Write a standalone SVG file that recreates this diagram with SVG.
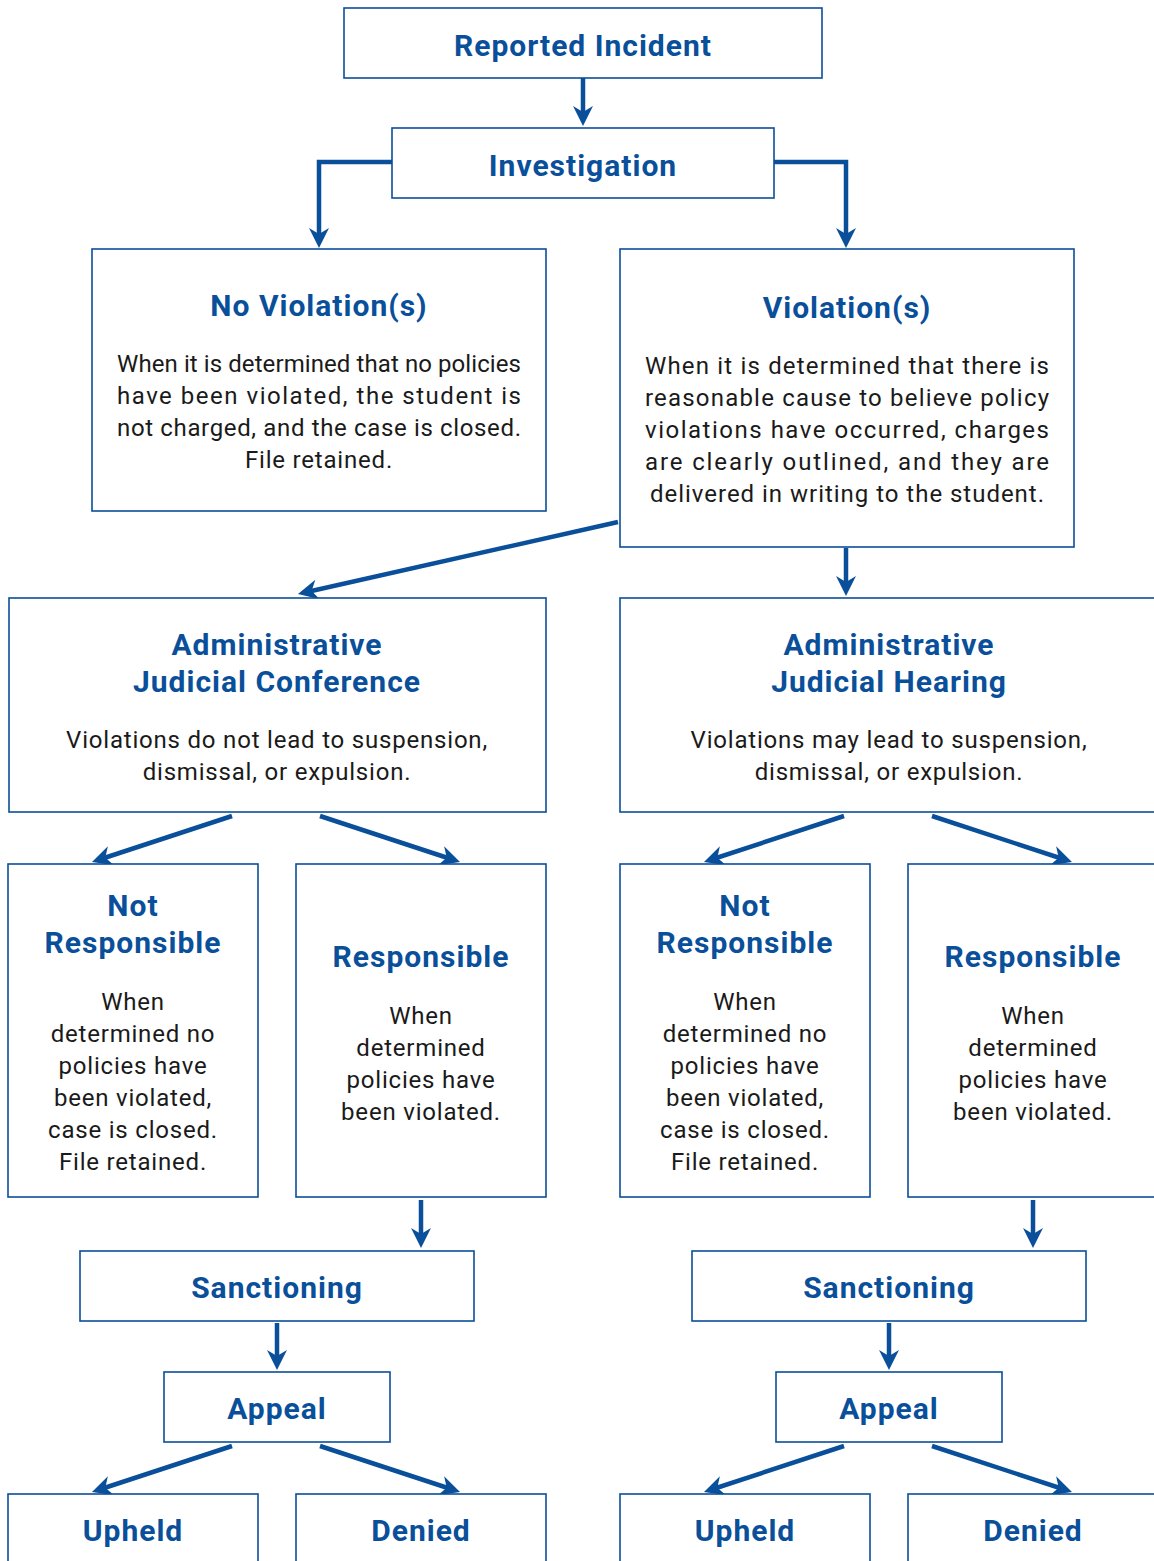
<svg xmlns="http://www.w3.org/2000/svg" width="1154" height="1561" viewBox="0 0 1154 1561">
<defs>
<marker id="ah" viewBox="-14 -11 24 22" refX="0" refY="0" markerWidth="24" markerHeight="22" markerUnits="userSpaceOnUse" orient="auto">
<path d="M8,0 L-12,-10 L-6,0 L-12,10 Z" fill="#0a4f9a"/>
</marker>
<style>
.box{fill:#fff;stroke:#0a4f9a;stroke-width:1.6}
.t{font-family:Roboto,"Liberation Sans",sans-serif;font-weight:700;fill:#0a4f9a;text-anchor:middle;font-size:30px;letter-spacing:1px}
.b{font-family:Roboto,"Liberation Sans",sans-serif;font-weight:400;fill:#1a1a1a;text-anchor:middle;font-size:24px;letter-spacing:0.8px}
.j{letter-spacing:0}
.c{fill:none;stroke:#0a4f9a;stroke-width:4.5;marker-end:url(#ah)}
</style>
</defs>
<rect width="1154" height="1561" fill="#fff"/>
<g id="connectors">
<path class="c" d="M583,78 V118"/>
<path class="c" d="M392,162 H319 V240"/>
<path class="c" d="M774,162 H846 V240"/>
<path class="c" d="M618,522 L305.8,592.2"/>
<path class="c" d="M846,548 V588"/>
<path class="c" d="M232,816 L99.6,859.5"/>
<path class="c" d="M320,816 L452.4,859.5"/>
<path class="c" d="M844,816 L711.6,859.5"/>
<path class="c" d="M932,816 L1064.4,859.5"/>
<path class="c" d="M421,1200 V1240"/>
<path class="c" d="M1033,1200 V1240"/>
<path class="c" d="M277,1323 V1362"/>
<path class="c" d="M889,1323 V1362"/>
<path class="c" d="M232,1446 L99.6,1489.5"/>
<path class="c" d="M320,1446 L452.4,1489.5"/>
<path class="c" d="M844,1446 L711.6,1489.5"/>
<path class="c" d="M932,1446 L1064.4,1489.5"/>
</g>
<g id="reported">
<rect class="box" x="344" y="8" width="478" height="70"/>
<text class="t" x="583" y="56">Reported Incident</text>
</g>
<g id="investigation">
<rect class="box" x="392" y="128" width="382" height="70"/>
<text class="t" x="583" y="176">Investigation</text>
</g>
<g id="noviolation">
<rect class="box" x="92" y="249" width="454" height="262"/>
<text class="t" x="319" y="316">No Violation(s)</text>
<text class="b j" x="319" y="372" textLength="404" lengthAdjust="spacing">When it is determined that no policies</text>
<text class="b j" x="319" y="404" textLength="404" lengthAdjust="spacing">have been violated, the student is</text>
<text class="b j" x="319" y="436" textLength="404" lengthAdjust="spacing">not charged, and the case is closed.</text>
<text class="b" x="319" y="468">File retained.</text>
</g>
<g id="violation">
<rect class="box" x="620" y="249" width="454" height="298"/>
<text class="t" x="847" y="318">Violation(s)</text>
<text class="b j" x="847" y="374" textLength="404" lengthAdjust="spacing">When it is determined that there is</text>
<text class="b j" x="847" y="406" textLength="404" lengthAdjust="spacing">reasonable cause to believe policy</text>
<text class="b j" x="847" y="438" textLength="404" lengthAdjust="spacing">violations have occurred, charges</text>
<text class="b j" x="847" y="470" textLength="404" lengthAdjust="spacing">are clearly outlined, and they are</text>
<text class="b j" x="847" y="502" textLength="394" lengthAdjust="spacing">delivered in writing to the student.</text>
</g>
<g id="conference">
<rect class="box" x="9" y="598" width="537" height="214"/>
<text class="t" x="277" y="655">Administrative</text>
<text class="t" x="277" y="692">Judicial Conference</text>
<text class="b" x="277" y="748">Violations do not lead to suspension,</text>
<text class="b" x="277" y="780">dismissal, or expulsion.</text>
</g>
<g id="hearing">
<rect class="box" x="620" y="598" width="540" height="214"/>
<text class="t" x="889" y="655">Administrative</text>
<text class="t" x="889" y="692">Judicial Hearing</text>
<text class="b" x="889" y="748">Violations may lead to suspension,</text>
<text class="b" x="889" y="780">dismissal, or expulsion.</text>
</g>
<g id="notresp1">
<rect class="box" x="8" y="864" width="250" height="333"/>
<text class="t" x="133" y="916">Not</text>
<text class="t" x="133" y="953">Responsible</text>
<text class="b" x="133" y="1010">When</text>
<text class="b" x="133" y="1042">determined no</text>
<text class="b" x="133" y="1074">policies have</text>
<text class="b" x="133" y="1106">been violated,</text>
<text class="b" x="133" y="1138">case is closed.</text>
<text class="b" x="133" y="1170">File retained.</text>
</g>
<g id="resp1">
<rect class="box" x="296" y="864" width="250" height="333"/>
<text class="t" x="421" y="967">Responsible</text>
<text class="b" x="421" y="1024">When</text>
<text class="b" x="421" y="1056">determined</text>
<text class="b" x="421" y="1088">policies have</text>
<text class="b" x="421" y="1120">been violated.</text>
</g>
<g id="notresp2">
<rect class="box" x="620" y="864" width="250" height="333"/>
<text class="t" x="745" y="916">Not</text>
<text class="t" x="745" y="953">Responsible</text>
<text class="b" x="745" y="1010">When</text>
<text class="b" x="745" y="1042">determined no</text>
<text class="b" x="745" y="1074">policies have</text>
<text class="b" x="745" y="1106">been violated,</text>
<text class="b" x="745" y="1138">case is closed.</text>
<text class="b" x="745" y="1170">File retained.</text>
</g>
<g id="resp2">
<rect class="box" x="908" y="864" width="260" height="333"/>
<text class="t" x="1033" y="967">Responsible</text>
<text class="b" x="1033" y="1024">When</text>
<text class="b" x="1033" y="1056">determined</text>
<text class="b" x="1033" y="1088">policies have</text>
<text class="b" x="1033" y="1120">been violated.</text>
</g>
<g id="sanction1">
<rect class="box" x="80" y="1251" width="394" height="70"/>
<text class="t" x="277" y="1298">Sanctioning</text>
</g>
<g id="sanction2">
<rect class="box" x="692" y="1251" width="394" height="70"/>
<text class="t" x="889" y="1298">Sanctioning</text>
</g>
<g id="appeal1">
<rect class="box" x="164" y="1372" width="226" height="70"/>
<text class="t" x="277" y="1419">Appeal</text>
</g>
<g id="appeal2">
<rect class="box" x="776" y="1372" width="226" height="70"/>
<text class="t" x="889" y="1419">Appeal</text>
</g>
<g id="upheld1">
<rect class="box" x="8" y="1494" width="250" height="80"/>
<text class="t" x="133" y="1541">Upheld</text>
</g>
<g id="denied1">
<rect class="box" x="296" y="1494" width="250" height="80"/>
<text class="t" x="421" y="1541">Denied</text>
</g>
<g id="upheld2">
<rect class="box" x="620" y="1494" width="250" height="80"/>
<text class="t" x="745" y="1541">Upheld</text>
</g>
<g id="denied2">
<rect class="box" x="908" y="1494" width="260" height="80"/>
<text class="t" x="1033" y="1541">Denied</text>
</g>
</svg>
